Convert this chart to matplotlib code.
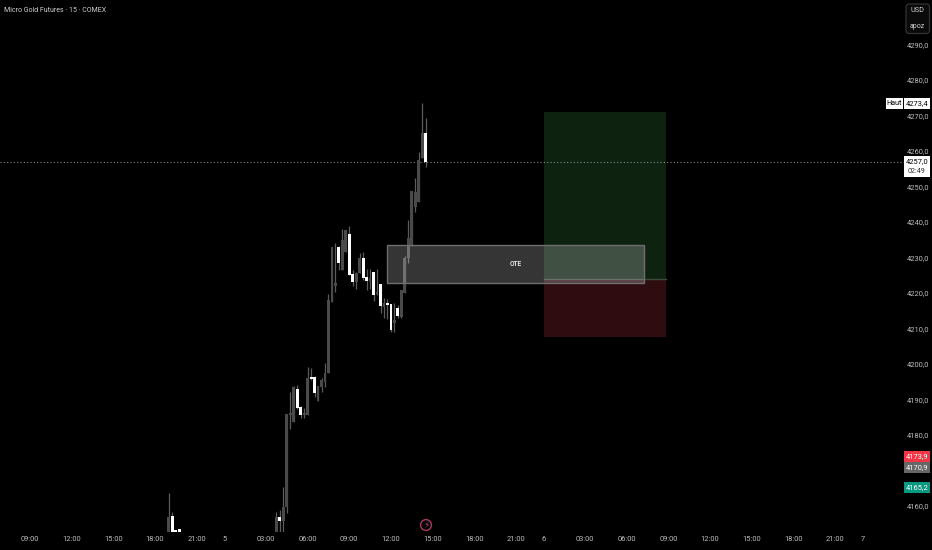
import matplotlib
matplotlib.use("Agg")
import matplotlib.pyplot as plt
from matplotlib.patches import Rectangle, Circle, FancyBboxPatch

# bars counted from 03:00 on the 5th, 15 min each
bar_idx = [-28, -27, -26, -25, 3, 4, 5, 6, 7, 8, 9, 10, 11, 12, 13, 14, 15, 16, 17, 18, 19, 20,
           21, 22, 23, 24, 25, 26, 27, 28, 29, 30, 31, 32, 33, 34, 35, 36, 37, 38, 39, 40,
           41, 42, 43, 44, 45, 46]
opens = [4150, 4157.2, 4153.2, 4153.5, 4150, 4157, 4155.9, 4159.8, 4185.6, 4183.8, 4193.1, 4188, 4185.6,
         4185.6, 4196.4, 4196.4, 4189.7, 4193.6, 4195, 4197.6, 4217.6, 4222, 4232.9, 4226.5, 4231.6,
         4236.6, 4225.3, 4223.2, 4225.5, 4229.8, 4224.6, 4223.5, 4225.8, 4219.7, 4222.4, 4216, 4217.1,
         4216.9, 4211.5, 4215.9, 4213.3, 4219.9, 4229.8, 4233.5, 4244.3, 4245.7, 4257.9, 4265.2]
highs = [4163.7, 4158.2, 4153.2, 4153.5, 4158.4, 4158.9, 4165.4, 4185.8, 4192.2, 4193.8, 4194.1, 4188.2, 4187.5,
         4199.2, 4198.8, 4196.6, 4193.8, 4196.2, 4200.2, 4219.7, 4232.9, 4234.2, 4233.2, 4237.9, 4237.7,
         4238.9, 4226.5, 4225.8, 4231.2, 4231.5, 4226.7, 4226.7, 4226, 4226.7, 4222.4, 4218.5, 4218.2,
         4216.9, 4217.1, 4216.6, 4220.8, 4230.4, 4240.7, 4248.7, 4252.3, 4259.8, 4273.4, 4269.2]
lows = [4150, 4150, 4150, 4150, 4150, 4150, 4150, 4157.9, 4181.6, 4183.8, 4187.2, 4184.7, 4184.9,
        4185.6, 4195.5, 4190.8, 4189.7, 4192.2, 4193.6, 4197.6, 4217.6, 4220.4, 4226.5, 4226.5, 4231.6,
        4225.1, 4222.1, 4221, 4225.5, 4223.7, 4220.8, 4221, 4217.7, 4219.4, 4214.3, 4212.9, 4212.6,
        4209.1, 4209.1, 4212.9, 4213, 4219.9, 4228.5, 4233.2, 4242.7, 4245.7, 4257.9, 4255.6]
closes = [4157, 4150, 4150, 4150, 4156.8, 4155.9, 4159.8, 4185.8, 4186.1, 4193.6, 4187.5, 4185.6, 4186.3,
          4196.2, 4195.8, 4191.7, 4193.8, 4195.5, 4197.6, 4218, 4232.9, 4222.7, 4228.4, 4234.9, 4237.7,
          4225.1, 4223, 4225.5, 4229.8, 4224.1, 4223.5, 4224.2, 4219.4, 4220.3, 4216.4, 4217.1, 4216.6,
          4209.6, 4212.3, 4213.6, 4220.8, 4230, 4235.4, 4248.7, 4248.5, 4257.5, 4265, 4257]

price_ticks = [4160, 4180, 4190, 4200, 4210, 4220, 4230, 4240, 4250, 4260, 4270, 4280, 4290]
time_pos = [-68, -56, -44, -32, -20, -12, 0, 12, 24, 36, 48, 60, 72, 80, 92, 104, 116, 128, 140, 152, 164, 172]
time_labels = ["09:00", "12:00", "15:00", "18:00", "21:00", "5", "03:00", "06:00", "09:00", "12:00", "15:00",
               "18:00", "21:00", "6", "03:00", "06:00", "09:00", "12:00", "15:00", "18:00", "21:00", "7"]

last_price = 4257.0
ote_low, ote_high = 4222.9, 4233.4
ote_start, ote_end = 35, 109
pos_start, pos_end = 80, 115.3
target, entry, stop = 4271, 4223.9, 4207.5

plt.rcParams['font.family'] = ['Roboto', 'DejaVu Sans']

W, H = 932, 550
fig = plt.figure(figsize=(W / 100, H / 100), dpi=100, facecolor='black')

# main chart, right edge at the price scale, bottom edge at the time scale
ax = fig.add_axes([0, (H - 532) / H, 905 / W, 532 / H], facecolor='black')
ax.set_xlim(-76.66, 184.15)
ax.set_ylim(4152.68, 4302.54)
for s in ax.spines.values():
    s.set_visible(False)

ax.add_patch(Rectangle((pos_start, entry), pos_end - pos_start, target - entry, fc='#0e2210', ec='none', zorder=1))
ax.add_patch(Rectangle((pos_start, stop), pos_end - pos_start, entry - stop, fc='#2e0c10', ec='none', zorder=1))
ax.plot([pos_start, pos_end], [entry, entry], color='#3e4a3e', lw=1, zorder=1.5)

ax.axhline(last_price, color='#8a8a8a', lw=0.8, ls=(0, (1, 2)), zorder=2)

ax.vlines(bar_idx, lows, highs, color='#5c5c5c', lw=0.9, zorder=3)
for i, o, c in zip(bar_idx, opens, closes):
    col = '#ffffff' if c < o else '#4a4a4a'
    ax.bar(i, abs(c - o), bottom=min(o, c), width=0.8, color=col, linewidth=0, zorder=4)

ax.add_patch(Rectangle((ote_start, ote_low), ote_end - ote_start, ote_high - ote_low,
                       fc=(1, 1, 1, 0.21), ec='#6e6e6e', lw=1, zorder=5))
ax.text((ote_start + ote_end) / 2, (ote_low + ote_high) / 2, "OTE", color='#e0e0e0', fontsize=4.8,
        fontweight='bold', ha='center', va='center', zorder=6)

ax.yaxis.tick_right()
ax.set_yticks(price_ticks)
ax.set_yticklabels([f"{p},0" for p in price_ticks])
ax.tick_params(axis='y', length=0, pad=1.5, labelsize=5.4, labelcolor='#bdbdbd')
ax.set_xticks(time_pos)
ax.set_xticklabels(time_labels)
ax.tick_params(axis='x', length=0, pad=3, labelsize=5.4, labelcolor='#bdbdbd')

# overlay in pixels for the header and price badges
top = fig.add_axes([0, 0, 1, 1], facecolor='none')
top.set_xlim(0, W)
top.set_ylim(H, 0)
top.axis('off')


def y_px(v):
    return 506 - (v - 4160) * 3.55


def badge(value, txt, bg, fg='white', h=10.5):
    y = y_px(value)
    top.add_patch(Rectangle((904, y - h / 2), 26, h, fc=bg, ec='none'))
    top.text(917, y, txt, color=fg, fontsize=5.4, ha='center', va='center')


top.text(4, 10, "Micro Gold Futures · 15 · COMEX", color='#d0d0d0', fontsize=5, ha='left', va='center')

top.add_patch(FancyBboxPatch((906, 4), 23.5, 29.5, boxstyle="round,pad=0,rounding_size=3", fc='#0a0a0a', ec='#333333', lw=0.9))
top.text(917, 10.5, "USD", color='#d0d0d0', fontsize=5.2, ha='center', va='center')
top.text(917, 26, "apoz", color='#d0d0d0', fontsize=5, ha='center', va='center')

badge(4273.4, "4273,4", 'white', 'black')
top.add_patch(Rectangle((886, y_px(4273.4) - 5.3), 17, 10.6, fc='white', ec='none'))
top.text(894.5, y_px(4273.4), "Haut", color='black', fontsize=5.2, ha='center', va='center')

top.add_patch(Rectangle((904, 156), 26, 20.7, fc='white', ec='none'))
top.text(917, 161.5, "4257,0", color='black', fontsize=5.4, ha='center', va='center')
top.text(917, 171.5, "02:49", color='#333333', fontsize=5.2, ha='center', va='center')

badge(4173.9, "4173,9", '#f23645')
badge(4170.9, "4170,9", '#666666')
badge(4165.2, "4165,2", '#089981')

top.add_patch(Circle((426, 525), 5.4, fc='none', ec='#a83a66', lw=1))
top.text(426, 525, "\u26a1", color='#b04070', fontsize=6.5, ha='center', va='center', family='DejaVu Sans')

fig.savefig("out.png", dpi=100, facecolor='black')
